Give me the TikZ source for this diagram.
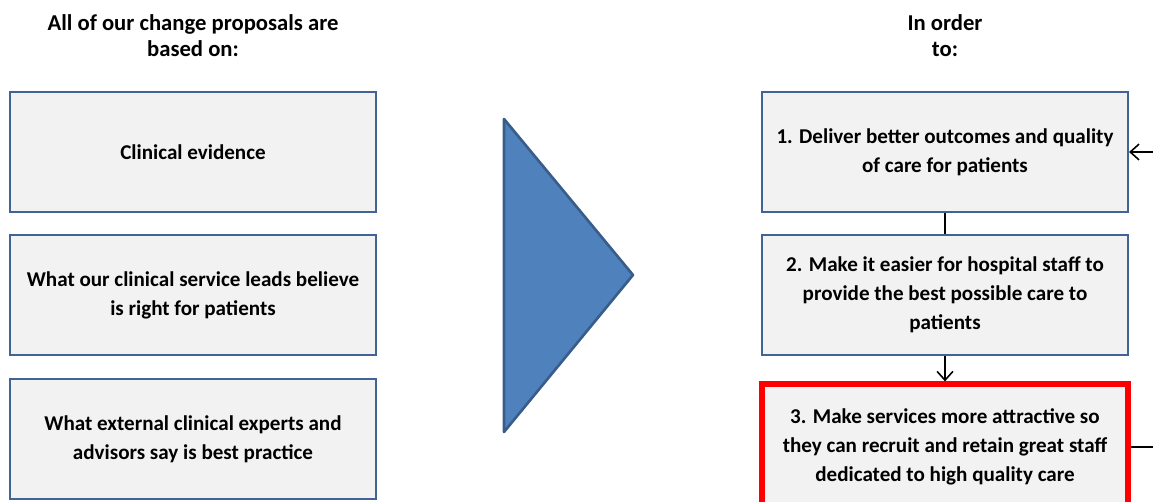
\documentclass[tikz,border=0pt]{standalone}
\usepackage{fontspec}
\setmainfont{Carlito}
\usetikzlibrary{arrows.meta}
\definecolor{boxfill}{RGB}{242,242,242}
\definecolor{boxline}{RGB}{65,100,150}
\definecolor{trifill}{RGB}{79,129,189}
\definecolor{triline}{RGB}{56,93,138}
\definecolor{hot}{RGB}{255,0,0}
\tikzset{
  every node/.style={font=\fontsize{12}{16.4}\selectfont\bfseries, text=black},
  panel/.style={draw=boxline, line width=1.2pt, fill=boxfill, minimum width=366*0.02cm,
                minimum height=120*0.02cm, align=center, inner sep=0pt},
  hotpanel/.style={panel, draw=hot, line width=3pt},
  title/.style={align=center, font=\fontsize{12.9}{14.8}\selectfont\bfseries},
  link/.style={line width=0.9pt, draw=black},
  tip/.style={-{Straight Barb[length=5pt,width=9pt,line width=0.9pt]}}
}
\begin{document}
\begin{tikzpicture}[x=0.02cm, y=-0.02cm]
\useasboundingbox (0,0) rectangle (1153,502);

% headings
\node[title] (hl) at (193,36) {All of our change proposals are\\based on:};
\node[title] (hr) at (945,36) {In order\\to:};

% left column
\node[panel] (l1) at (193,152) {Clinical evidence};
\node[panel] (l2) at (193,295) {What our clinical service leads believe\\is right for patients};
\node[panel] (l3) at (193,439) {What external clinical experts and\\advisors say is best practice};

% central arrow
\filldraw[fill=trifill, draw=triline, line width=1.5pt, line join=round]
  (504,119) -- (633,275) -- (504,432) -- cycle;

% right column
\node[panel] (r1) at (945,152) {1. Deliver better outcomes and quality\\of care for patients};
\node[panel] (r2) at (945,295) {2. Make it easier for hospital staff to\\provide the best possible care to\\patients};
\node[hotpanel, minimum height=126*0.02cm] (r3) at (945,447) {3. Make services more attractive so\\they can recruit and retain great staff\\dedicated to high quality care};

% connectors
\draw[link] (r1.south) -- (r2.north);
\draw[link, tip] (r2.south) -- (r3.north);
\coordinate (back) at (1175,447);
\coordinate (backtop) at (1175,152);
\draw[link, tip] (r3.east) -- (back) -- (backtop) -- (r1.east);
\end{tikzpicture}
\end{document}
